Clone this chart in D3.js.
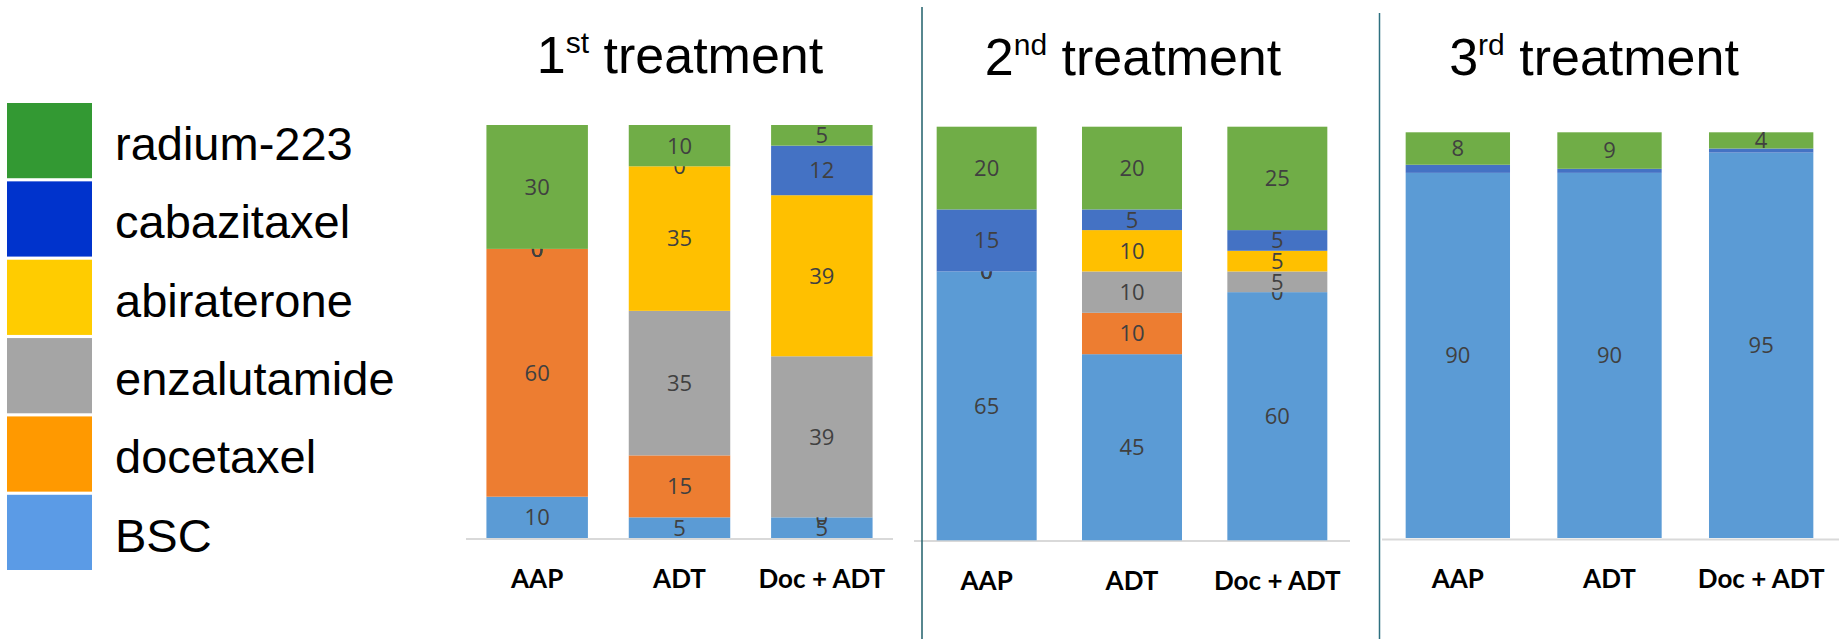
<!DOCTYPE html>
<html>
<head>
<meta charset="utf-8">
<script src="https://cdn.jsdelivr.net/npm/d3@7"></script>
<style>
  body { margin: 0; background: #fff; }
  svg { display: block; }
</style>
</head>
<body>
<div id="chart"></div>
<script>
// ---- data ----
var categories = ['AAP', 'ADT', 'Doc + ADT'];
var treatmentNums = ['1', '2', '3'],
    treatmentSups = ['st', 'nd', 'rd'];

// stack order, bottom to top
var seriesNames = ['BSC', 'docetaxel', 'enzalutamide', 'abiraterone', 'cabazitaxel', 'radium-223'];

// one row per treatment panel, one value per category (null = not in chart)
var bscValues      = [[10, 5, 5],  [65, 45, 60], [90, 90, 95]],
    docetaxelVals  = [[60, 15, 0], [0, 10, 0],   [null, null, null]],
    enzalutamideVals = [[0, 35, 39], [0, 10, 5], [null, null, null]],
    abirateroneVals  = [[0, 35, 39], [0, 10, 5], [null, null, null]],
    cabazitaxelVals  = [[0, 0, 12],  [15, 5, 5], [2, 1, 1]],
    radiumVals       = [[30, 10, 5], [20, 20, 25], [8, 9, 4]];

var seriesValues = [bscValues, docetaxelVals, enzalutamideVals, abirateroneVals, cabazitaxelVals, radiumVals];

// bar fills (office palette) and the legend's own swatch colours
var barColors    = ['#5b9bd5', '#ed7d31', '#a5a5a5', '#ffc000', '#4472c4', '#70ad47'],
    legendColors = ['#5b9be6', '#ff9900', '#a5a5a5', '#ffcc00', '#0033cc', '#339933'];

// ---- layout ----
var W = 1839, H = 639;
var panels = [
  {x0: 466, x1: 893,  yTop: 125,   yBase: 538,   axisY: 539, axisX1: 893,  titleX: 680,  titleY: 73, labelY: 588, pad: 0.287},
  {x0: 914, x1: 1350, yTop: 126.7, yBase: 540.3, axisY: 541, axisX1: 1350, titleX: 1133, titleY: 75, labelY: 590, pad: 0.312},
  {x0: 1382, x1: 1837, yTop: 132.3, yBase: 538, axisY: 539.5, axisX1: 1839, titleX: 1594, titleY: 75, labelY: 588, pad: 0.312}
];
var dividers = [{x: 922, y0: 7, color: '#1f5f6a'}, {x: 1379.5, y0: 13, color: '#2e7080'}];

var svg = d3.select('#chart').append('svg')
    .attr('width', W)
    .attr('height', H);

svg.append('rect').attr('width', W).attr('height', H).attr('fill', '#fff');

// legend (top of list = top of stack)
var legendRows = seriesNames.map(function(d, i) { return {name: d, color: legendColors[i]}; }).reverse();
var legend = svg.append('g').attr('class', 'legend');
var legendY = d3.scaleBand().domain(legendRows.map(function(d) { return d.name; }))
    .range([103, 570]).paddingInner(0.04);

legend.selectAll('rect')
  .data(legendRows)
  .enter().append('rect')
    .attr('x', 7)
    .attr('y', function(d) { return legendY(d.name); })
    .attr('width', 85)
    .attr('height', legendY.bandwidth())
    .attr('fill', function(d) { return d.color; });

legend.selectAll('text')
  .data(legendRows)
  .enter().append('text')
    .attr('x', 115)
    .attr('y', function(d) { return legendY(d.name) + 57; })
    .attr('font-family', '"Liberation Sans", Arial, sans-serif')
    .attr('font-size', 47)
    .attr('fill', '#000')
    .text(function(d) { return d.name; });

// panels
panels.forEach(function(p, pi) {
  var g = svg.append('g').attr('class', 'panel-' + pi);

  var x = d3.scaleBand().domain(categories).range([p.x0, p.x1])
      .paddingInner(p.pad).paddingOuter(p.pad / 2);
  var y = d3.scaleLinear().domain([0, 100]).range([p.yBase, p.yTop]);

  // build rows for d3.stack
  var rows = categories.map(function(c, ci) {
    var r = {cat: c};
    seriesNames.forEach(function(s, si) { r[s] = seriesValues[si][pi][ci]; });
    return r;
  });
  var stacked = d3.stack().keys(seriesNames)
      .value(function(d, key) { return d[key] || 0; })(rows);

  // axis line
  g.append('line')
    .attr('x1', p.x0).attr('x2', p.axisX1)
    .attr('y1', p.axisY).attr('y2', p.axisY)
    .attr('stroke', '#d9d9d9')
    .attr('stroke-width', 2);

  var layers = g.selectAll('g.layer')
    .data(stacked)
    .enter().append('g')
      .attr('class', 'layer')
      .attr('fill', function(d, i) { return barColors[i]; });

  layers.selectAll('rect')
    .data(function(d) { return d; })
    .enter().append('rect')
      .attr('x', function(d) { return x(d.data.cat); })
      .attr('width', x.bandwidth())
      .attr('y', function(d) { return y(d[1]); })
      .attr('height', function(d) { return y(d[0]) - y(d[1]); });

  // value labels: zeros still show (Excel style), slivers do not
  layers.each(function(layer) {
    var key = layer.key;
    d3.select(this).selectAll('text')
      .data(layer.filter(function(d) {
        var v = d.data[key];
        return v !== null && (v === 0 || v >= 3);
      }))
      .enter().append('text')
        .attr('x', function(d) { return x(d.data.cat) + x.bandwidth() / 2; })
        .attr('y', function(d) { return (y(d[0]) + y(d[1])) / 2; })
        .attr('dy', '0.36em')
        .attr('text-anchor', 'middle')
        .attr('font-family', '"Open Sans", "Noto Sans", sans-serif')
        .attr('font-size', 22)
        .attr('fill', '#404040')
        .text(function(d) { return d.data[key]; });
  });

  // category labels
  g.selectAll('text.cat')
    .data(categories)
    .enter().append('text')
      .attr('class', 'cat')
      .attr('x', function(d) { return x(d) + x.bandwidth() / 2; })
      .attr('y', p.labelY)
      .attr('text-anchor', 'middle')
      .attr('font-family', 'Lato, "Open Sans", sans-serif')
      .attr('font-weight', 'bold')
      .attr('font-size', 26)
      .attr('fill', '#000')
      .text(function(d) { return d; });

  // title with superscript
  var t = g.append('text')
    .attr('x', p.titleX)
    .attr('y', p.titleY)
    .attr('text-anchor', 'middle')
    .attr('font-family', '"Liberation Sans", Arial, sans-serif')
    .attr('font-size', 52)
    .attr('fill', '#000');
  t.append('tspan').text(treatmentNums[pi]);
  t.append('tspan').attr('font-size', 30).attr('dy', -20).text(treatmentSups[pi]);
  t.append('tspan').attr('dy', 20).text(' treatment');
});

// divider lines between panels
svg.selectAll('line.divider')
  .data(dividers)
  .enter().append('line')
    .attr('class', 'divider')
    .attr('x1', function(d) { return d.x; })
    .attr('x2', function(d) { return d.x; })
    .attr('y1', function(d) { return d.y0; })
    .attr('y2', H)
    .attr('stroke', function(d) { return d.color; })
    .attr('stroke-width', 1.5);
</script>
</body>
</html>
